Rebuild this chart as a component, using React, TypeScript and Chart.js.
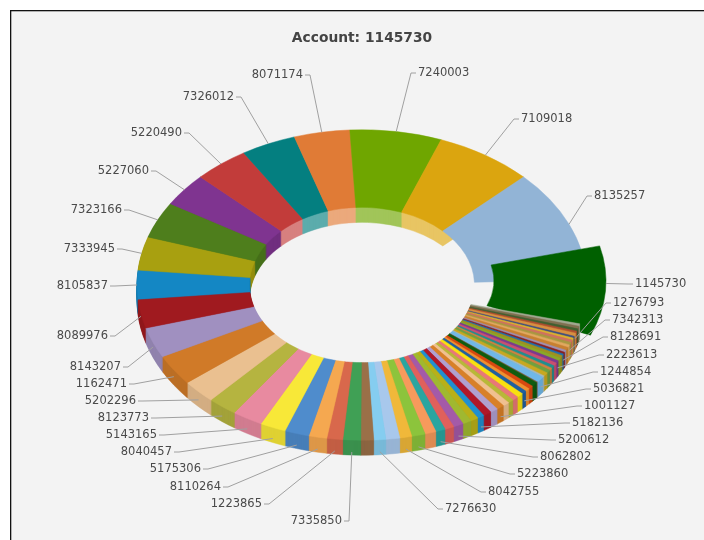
import React, { useEffect, useRef } from "react";
import { Chart, registerables } from "chart.js";

Chart.register(...registerables);

const titleText = "Account: 1145730";

const sliceNames = [
  "1145730", "", "", "", "", "1276793", "", "", "", "", "7342313", "", "", "", "8128691", "", "", "2223613",
  "", "", "", "", "", "", "1244854", "", "", "", "", "5036821", "", "", "", "", "1001127", "", "", "5182136",
  "", "", "5200612", "", "8062802", "", "5223860", "8042755", "", "7276630", "", "7335850", "1223865", "8110264",
  "5175306", "8040457", "5143165", "8123773", "5202296", "1162471", "8143207", "8089976", "8105837", "7333945",
  "7323166", "5227060", "5220490", "7326012", "8071174", "7240003", "7109018", "8135257",
];

const sliceValues = [
  16.5, 0.9, 1, 0.9, 0.8, 1.2, 0.7, 0.8, 0.9, 1, 1, 1.2, 0.8, 0.7, 0.7, 1, 1.1, 1,
  1.2, 1, 0.9, 1.2, 1.4, 0.6, 2.2, 0.3, 1.7, 1.3, 1.2, 1.3, 1.7, 1.6, 1.5, 1.7, 2, 2, 2.2, 1.8,
  2, 2.3, 2.6, 2.4, 2.5, 2.9, 3.5, 3.1, 3.6, 3.1, 3.3, 4.6, 4.1, 4.7,
  6.3, 6.7, 7.9, 7.6, 8.8, 11.5, 11.4, 10.6, 11, 12.5,
  13.6, 12.5, 14.2, 14.2, 14.4, 23.7, 25.3, 42.1,
];

const sliceColors = [
  "#006000", "#a0a890", "#807050", "#406030", "#b05030", "#d89040", "#405080", "#d8b030", "#d07060", "#a89840",
  "#e0a860", "#c88030", "#a08fb0", "#8a2020", "#1f70b0", "#a09020", "#8aa828", "#7a3a90",
  "#c85070", "#1f8f8f", "#d08040", "#70a040", "#c8a820", "#a8b8b8", "#70b8e8", "#806040", "#105c10", "#d84810",
  "#f09030", "#2060a0", "#f8e010", "#e87878", "#b8b838", "#f0c090", "#d88028", "#b0a0d0", "#b01828", "#2090d0",
  "#b8b018", "#a0b830", "#a45aa8", "#e0605c", "#2aa5a0", "#f79a5c", "#8cc43c", "#f0b83a", "#a8c8ec", "#85cdf0",
  "#9a7048", "#40a055", "#d8684c", "#f5a850",
  "#4f8ccc", "#f8e838", "#e88aa0", "#b5b440", "#eac090", "#d07a28", "#a090c0", "#a01a1f", "#1487c4", "#a8a010",
  "#4e7e1c", "#7f3490", "#c23c3a", "#047f80", "#e07b36", "#6fa600", "#dba50f", "#92b4d6",
];

// where each label's text sits: [x, y, side of the chart]
const labelSpots: Record<string, [number, number, "left" | "right"]> = {
  "1145730": [635, 284, "left"], "1276793": [613, 303, "left"], "7342313": [612, 320, "left"],
  "8128691": [610, 337, "left"], "2223613": [606, 355, "left"], "1244854": [600, 372, "left"],
  "5036821": [593, 389, "left"], "1001127": [584, 406, "left"], "5182136": [572, 423, "left"],
  "5200612": [558, 440, "left"], "8062802": [540, 457, "left"], "5223860": [517, 474, "left"],
  "8042755": [488, 492, "left"], "7276630": [445, 509, "left"], "7335850": [342, 521, "right"],
  "1223865": [262, 504, "right"], "8110264": [221, 487, "right"], "5175306": [201, 469, "right"],
  "8040457": [172, 452, "right"], "5143165": [157, 435, "right"], "8123773": [149, 418, "right"],
  "5202296": [136, 401, "right"], "1162471": [127, 384, "right"], "8143207": [121, 367, "right"],
  "8089976": [108, 336, "right"], "8105837": [108, 286, "right"], "7333945": [115, 249, "right"],
  "7323166": [122, 210, "right"], "5227060": [149, 171, "right"], "5220490": [182, 133, "right"],
  "7326012": [234, 97, "right"], "8071174": [303, 75, "right"], "7240003": [418, 73, "left"],
  "7109018": [521, 119, "left"], "8135257": [594, 196, "left"],
};

const TILT = 0.69;
const DEPTH = 15;
const PULLED = { cx: 400, cy: 281, outer: 206, inner: 94, from: -14.3, to: 22.4, tail: 1 };
const RAD = Math.PI / 180;

function mix(hex: string, target: number, amount: number) {
  const n = parseInt(hex.slice(1), 16);
  const ch = (v: number) => Math.round(v + (target - v) * amount);
  return `rgb(${ch((n >> 16) & 255)},${ch((n >> 8) & 255)},${ch(n & 255)})`;
}

function paint(ctx: CanvasRenderingContext2D, arc: any, color: string) {
  const saved = arc.options;
  arc.options = { ...saved, backgroundColor: color, borderColor: color, borderWidth: 0.6 };
  arc.draw(ctx);
  arc.options = saved;
}

function tilted(ctx: CanvasRenderingContext2D, cx: number, cy: number, drop: number, body: () => void) {
  ctx.save();
  ctx.translate(cx, cy + drop);
  ctx.scale(1, TILT);
  ctx.translate(-cx, -cy);
  body();
  ctx.restore();
}

const ringPlugin = {
  id: "ring",
  beforeDraw(chart: any) {
    const { ctx, width, height } = chart;
    ctx.save();
    ctx.fillStyle = "#ffffff";
    ctx.fillRect(0, 0, width, height);
    ctx.fillStyle = "#f3f3f3";
    ctx.fillRect(10, 10, width - 10, height - 10);
    ctx.fillStyle = "#111111";
    ctx.fillRect(10, 10, width - 10, 1.3);
    ctx.fillRect(10, 10, 1.3, height - 10);
    ctx.restore();
  },
  beforeDatasetDraw() {
    return false;
  },
  beforeDatasetsDraw(chart: any) {
    const { ctx } = chart;
    const arcs: any[] = chart.getDatasetMeta(0).data;
    const cx = arcs[0].x;
    const cy = arcs[0].y;
    const mid = (a: any) => (a.startAngle + a.endAngle) / 2;
    const rest = arcs.slice(1);
    const back = rest.filter((a) => Math.sin(mid(a)) < 0);
    const front = rest.filter((a) => Math.sin(mid(a)) >= 0);
    const colorOf = (a: any) => sliceColors[arcs.indexOf(a)];
    // the inner wall shows pale along the far rim, dark toward the left, and not at all under the last slice
    const farRim = (a: any) => {
      const deg = mid(a) / RAD;
      return deg > 225 && deg < 320;
    };
    const walled = back.filter((a) => mid(a) / RAD < 320);

    for (let d = DEPTH; d >= 1; d--) {
      tilted(ctx, cx, cy, d, () =>
        walled.forEach((a) => paint(ctx, a, farRim(a) ? mix(colorOf(a), 255, 0.35) : mix(colorOf(a), 0, 0.12))),
      );
    }
    tilted(ctx, cx, cy, 0, () => back.forEach((a) => paint(ctx, a, colorOf(a))));

    // the pulled-out first slice lies under the front stripes and over the last slice
    const first = arcs[0];
    const keep = {
      x: first.x, y: first.y, startAngle: first.startAngle, endAngle: first.endAngle,
      circumference: first.circumference, innerRadius: first.innerRadius, outerRadius: first.outerRadius,
    };
    Object.assign(first, {
      x: PULLED.cx, y: PULLED.cy, startAngle: PULLED.from * RAD, endAngle: PULLED.to * RAD,
      circumference: (PULLED.to - PULLED.from) * RAD, innerRadius: PULLED.inner, outerRadius: PULLED.outer,
    });
    tilted(ctx, PULLED.cx, PULLED.cy, 0, () => paint(ctx, first, sliceColors[0]));
    Object.assign(first, keep);

    for (let d = DEPTH; d >= 1; d--) {
      tilted(ctx, cx, cy, d, () => front.forEach((a) => paint(ctx, a, mix(colorOf(a), 0, 0.1))));
    }
    tilted(ctx, cx, cy, 0, () => front.forEach((a) => paint(ctx, a, colorOf(a))));
  },
  afterDatasetsDraw(chart: any) {
    const { ctx } = chart;
    const arcs: any[] = chart.getDatasetMeta(0).data;
    ctx.save();
    ctx.font = "11.5px 'DejaVu Sans'";
    ctx.textBaseline = "middle";
    arcs.forEach((arc, i) => {
      const name = chart.data.labels[i];
      const spot = labelSpots[name];
      if (!spot) return;
      const [x, y, side] = spot;
      const a = i === 0 ? PULLED.tail * RAD : (arc.startAngle + arc.endAngle) / 2;
      const s = Math.sin(a);
      const tx = i === 0 ? PULLED.cx + PULLED.outer * Math.cos(a) : arc.x + arc.outerRadius * Math.cos(a);
      const ty = i === 0
        ? PULLED.cy + PULLED.outer * TILT * s
        : arc.y + arc.outerRadius * TILT * s + (s > 0 ? DEPTH * 0.8 * s : 0);
      const dir = side === "left" ? -1 : 1;
      ctx.strokeStyle = "#a0a0a0";
      ctx.lineWidth = 1;
      ctx.beginPath();
      ctx.moveTo(x + dir * 2, y);
      ctx.lineTo(x + dir * 7, y);
      ctx.lineTo(tx, ty);
      ctx.stroke();
      ctx.fillStyle = "#4a4a4a";
      ctx.textAlign = side;
      ctx.fillText(name, x, y);
    });
    ctx.restore();
  },
};

export default function App() {
  const ref = useRef<HTMLCanvasElement>(null);
  useEffect(() => {
    const chart = new Chart(ref.current as HTMLCanvasElement, {
      type: "doughnut",
      data: {
        labels: sliceNames,
        datasets: [{ data: sliceValues, backgroundColor: sliceColors, borderWidth: 0 }],
      },
      options: {
        responsive: false,
        animation: false,
        rotation: 88,
        cutout: "50%",
        layout: { padding: { left: 137, right: 117, top: 30, bottom: 30 } },
        plugins: {
          legend: { display: false },
          tooltip: { enabled: false },
          title: {
            display: true,
            text: titleText,
            color: "#444444",
            font: { family: "'DejaVu Sans'", size: 13.8, weight: "bold" },
            padding: { top: 0, bottom: 13.4 },
          },
        },
      },
      plugins: [ringPlugin as any],
    });
    return () => chart.destroy();
  }, []);
  return (
    <canvas
      ref={ref}
      width={704}
      height={540}
      style={{ position: "absolute", left: 0, top: 0, display: "block" }}
    />
  );
}
